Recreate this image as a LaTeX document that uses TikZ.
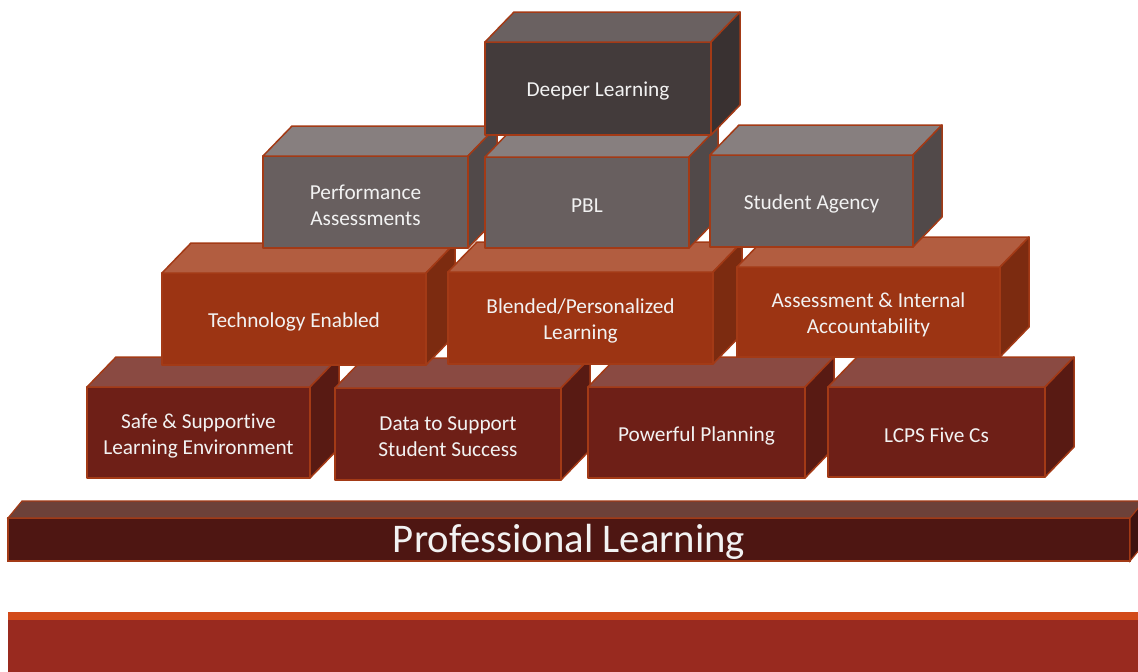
\documentclass[tikz,border=0pt]{standalone}
\usepackage{fontspec}
\setmainfont{Carlito}[Ligatures=NoCommon]
\definecolor{rust}{HTML}{A33A16}
\definecolor{dlfront}{HTML}{433B3B}
\definecolor{dltop}{HTML}{6A6161}
\definecolor{dlside}{HTML}{393131}
\definecolor{grfront}{HTML}{685F5F}
\definecolor{grtop}{HTML}{877F7F}
\definecolor{grside}{HTML}{514949}
\definecolor{orfront}{HTML}{9C3413}
\definecolor{ortop}{HTML}{B25D40}
\definecolor{orside}{HTML}{7C2B10}
\definecolor{mafront}{HTML}{6E1F17}
\definecolor{matop}{HTML}{8A4A42}
\definecolor{maside}{HTML}{581A13}
\definecolor{plfront}{HTML}{4E1612}
\definecolor{pltop}{HTML}{6D4139}
\definecolor{plside}{HTML}{3E1210}
\definecolor{basefill}{HTML}{992A1F}
\definecolor{basestrip}{HTML}{D24A1A}
\tikzset{
  face/.style={draw=rust, line width=1.5pt, line join=round},
  frontface/.style={face, outer sep=0pt, inner sep=0pt, anchor=north west},
  blocktext/.style={text=white!95!black, align=center, inner sep=0pt,
    font=\fontsize{21.3}{26}\selectfont},
}
% #1 name, #2 left, #3 top, #4 width, #5 height, #6 colour set, #7 label
\newcommand\blockbox[7]{%
  \node[frontface, fill=#6front, minimum width=#4pt, minimum height=#5pt] (#1) at (#2,#3) {};
  \filldraw[face, fill=#6top] (#1.north west) -- ++(29,-30) -- ++(#4,0) -- (#1.north east) -- cycle;
  \filldraw[face, fill=#6side] (#1.north east) -- ++(29,-30) -- ++(0,#5) -- (#1.south east) -- cycle;
  \node[blocktext] (#1-label) at ([yshift=-3pt]#1.center) {#7};
}
\begin{document}
\begin{tikzpicture}[x=1pt,y=-1pt]
\useasboundingbox (0,0) rectangle (1138,672);
\begin{scope}
\clip (0,0) rectangle (1138,672);
% foundation slab
\node[fill=basefill, minimum width=1140pt, minimum height=60pt, inner sep=0pt, outer sep=0pt, anchor=north west] (base) at (8,612) {};
\fill[basestrip] (base.north west) rectangle ++(1140,8);
% professional learning beam
\node[draw=rust, line width=1.2pt, fill=plfront, minimum width=1122pt, minimum height=43pt,
  inner sep=0pt, outer sep=0pt, anchor=north west] (pl) at (8,518) {};
\filldraw[draw=rust, line width=1.2pt, fill=pltop] (pl.north west) -- ++(14,-17) -- ++(1130,0) -- (pl.north east) -- cycle;
\filldraw[draw=rust, line width=1.2pt, fill=plside] (pl.north east) -- ++(14,-17) -- ++(0,43) -- (pl.south east) -- cycle;
\node[text=white!95!black, inner sep=0pt, font=\fontsize{40.7}{48}\selectfont] (pl-label) at ([yshift=-2pt]pl.center) {Professional Learning};
\end{scope}
% bottom row
\blockbox{safe}{87}{387}{223}{91}{ma}{Safe \& Supportive\\Learning Environment}
\blockbox{data}{335}{388}{226}{92}{ma}{Data to Support\\Student Success}
\blockbox{plan}{588}{387}{217}{91}{ma}{Powerful Planning}
\blockbox{lcps}{828}{387}{217}{90}{ma}{LCPS Five Cs}
% second row
\blockbox{tech}{162}{273}{264}{92}{or}{Technology Enabled}
\blockbox{blend}{448}{272}{265}{92}{or}{Blended/Personalized\\Learning}
\blockbox{assess}{737}{267}{263}{90}{or}{Assessment \& Internal\\Accountability}
% third row
\blockbox{perf}{263}{156}{205}{92}{gr}{Performance\\Assessments}
\blockbox{pbl}{485}{157}{204}{91}{gr}{PBL}
\blockbox{agency}{710}{155}{203}{92}{gr}{Student Agency}
% top
\blockbox{deeper}{485}{42}{226}{93}{dl}{Deeper Learning}
\end{tikzpicture}
\end{document}
